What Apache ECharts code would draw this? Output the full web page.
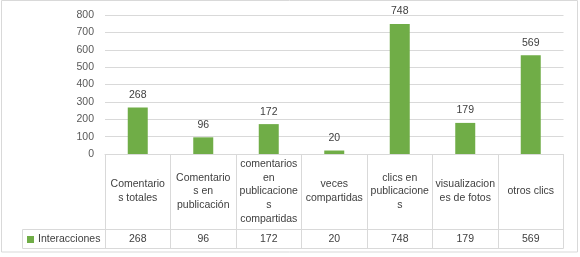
<!DOCTYPE html>
<html>
<head>
<meta charset="utf-8">
<script src="https://cdn.jsdelivr.net/npm/echarts@6/dist/echarts.min.js"></script>
<style>html,body{margin:0;padding:0;background:#fff}#c{width:580px;height:257px}</style>
</head>
<body>
<div id="c"></div>
<script>
var categories = ["Comentarios totales", "Comentarios en publicación", "comentarios en publicaciones compartidas", "veces compartidas", "clics en publicaciones", "visualizaciones de fotos", "otros clics"];
var categoryLabels = ["Comentario\ns totales", "Comentario\ns en\npublicación", "comentarios\nen\npublicacione\ns\ncompartidas", "veces\ncompartidas", "clics en\npublicacione\ns", "visualizacion\nes de fotos", "otros clics"];
var seriesName = "Interacciones";
var values = [268, 96, 172, 20, 748, 179, 569];
var yTicks = [0, 100, 200, 300, 400, 500, 600, 700, 800];

var GL = 105, GR = 563.5, GT = 15, GB = 154;
var ROW1 = 229.5, ROW2 = 248.5, LEG_L = 22.5;
var lineColor = '#d9d9d9';
var txt = '#404040';
var font = 'Liberation Sans';

var chart = echarts.init(document.getElementById('c'), null, {renderer: 'canvas'});
chart.setOption({
  animation: false,
  textStyle: {fontFamily: font},
  grid: {left: GL, right: 580 - GR, top: GT, bottom: 257 - GB, containLabel: false},
  legend: {
    data: [seriesName], left: 27, top: 234, padding: 0,
    itemWidth: 7, itemHeight: 7, icon: 'rect', itemGap: 4,
    textStyle: {fontSize: 10.5, color: txt, fontFamily: font, padding: [0, 0, 0, -1]}
  },
  xAxis: [{
    type: 'category', data: categories, position: 'bottom',
    axisLine: {lineStyle: {color: lineColor}},
    axisTick: {show: true, length: ROW2 - GB, interval: 0, lineStyle: {color: lineColor}},
    axisLabel: {
      interval: 0, margin: 37.5, verticalAlign: 'middle', lineHeight: 13.8,
      fontSize: 10.5, color: txt, fontFamily: font, align: 'center',
      formatter: function (v) { return categoryLabels[categories.indexOf(v)]; }
    }
  }, {
    type: 'category', data: values.map(String), position: 'bottom',
    axisLine: {show: false}, axisTick: {show: false},
    axisLabel: {interval: 0, margin: 85.5, verticalAlign: 'middle', fontSize: 10.5, color: txt, fontFamily: font}
  }],
  yAxis: {
    type: 'value', min: yTicks[0], max: yTicks[yTicks.length - 1], interval: yTicks[1] - yTicks[0],
    axisLine: {show: false}, axisTick: {show: false},
    splitLine: {lineStyle: {color: lineColor}},
    axisLabel: {margin: 11, fontSize: 10.5, color: '#595959', fontFamily: font}
  },
  series: [{
    name: seriesName, type: 'bar', data: values, barWidth: 20,
    itemStyle: {color: '#70ad47'},
    label: {show: true, position: 'top', distance: 7, fontSize: 10.5, color: txt, fontFamily: font}
  }],
  graphic: [
    {type: 'rect', shape: {x: 1.5, y: 0.5, width: 576, height: 251.5}, style: {fill: 'none', stroke: '#d9d9d9', lineWidth: 1}, silent: true, z: -1},
    {type: 'line', shape: {x1: LEG_L, y1: ROW1, x2: GR, y2: ROW1}, style: {stroke: lineColor, lineWidth: 1}, silent: true},
    {type: 'line', shape: {x1: LEG_L, y1: ROW2, x2: GR, y2: ROW2}, style: {stroke: lineColor, lineWidth: 1}, silent: true},
    {type: 'line', shape: {x1: LEG_L, y1: ROW1, x2: LEG_L, y2: ROW2}, style: {stroke: lineColor, lineWidth: 1}, silent: true}
  ]
});
</script>
</body>
</html>
